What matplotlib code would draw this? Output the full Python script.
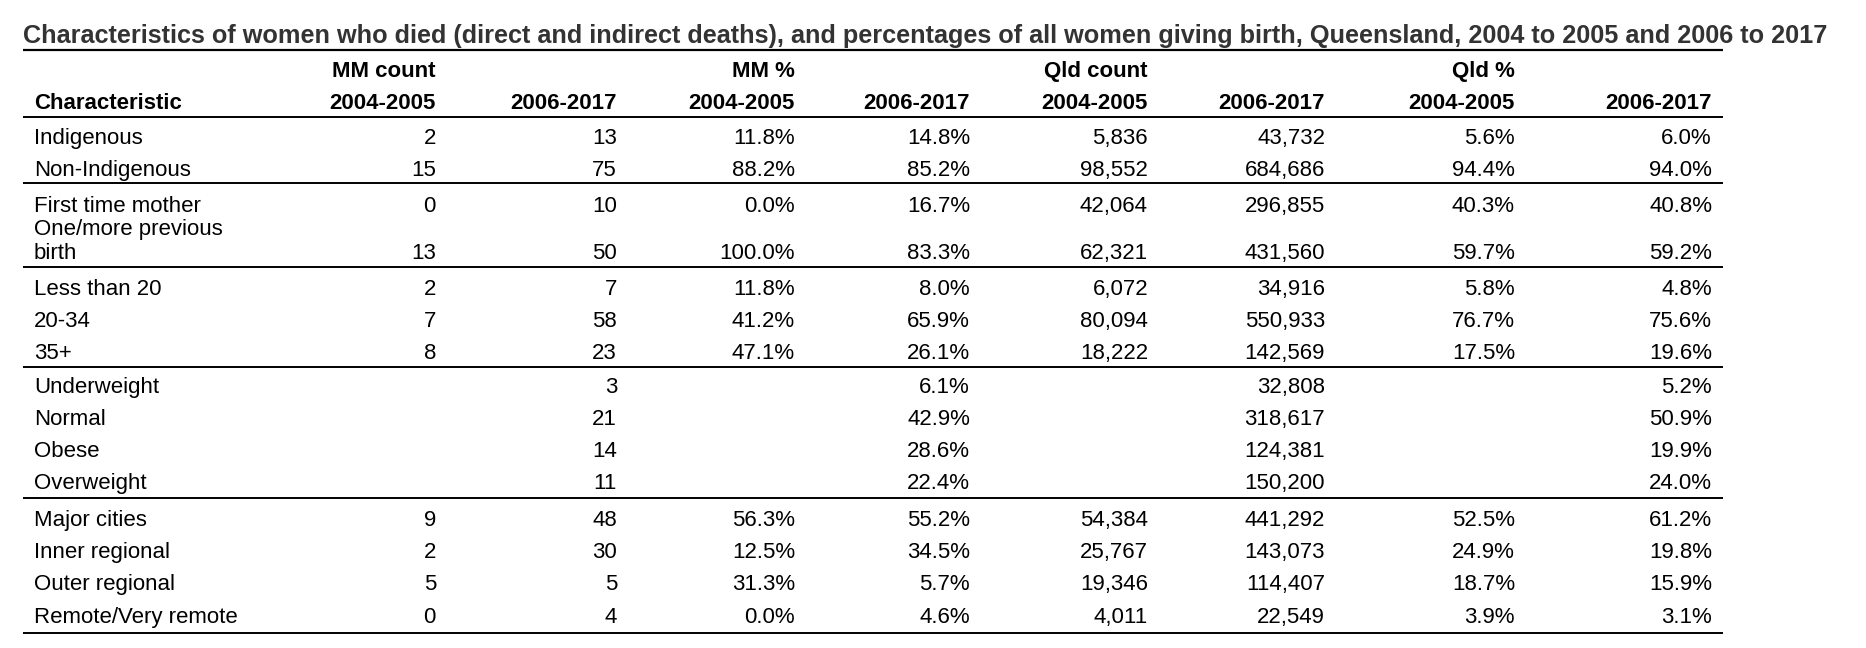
import matplotlib
matplotlib.use("Agg")
import matplotlib.pyplot as plt

plt.rcParams['font.family'] = ['Liberation Sans', 'DejaVu Sans']

title = ("Characteristics of women who died (direct and indirect deaths), and percentages "
         "of all women giving birth, Queensland, 2004 to 2005 and 2006 to 2017")

group_headers = ["MM count", "", "MM %", "", "Qld count", "", "Qld %", ""]
period_headers = ["2004-2005", "2006-2017"] * 4
first_header = "Characteristic"

characteristics = ["Indigenous", "Non-Indigenous", "First time mother",
                   "One/more previous\nbirth", "Less than 20", "20-34", "35+",
                   "Underweight", "Normal", "Obese", "Overweight",
                   "Major cities", "Inner regional", "Outer regional",
                   "Remote/Very remote"]

mm_count_0405 = [2, 15, 0, 13, 2, 7, 8, None, None, None, None, 9, 2, 5, 0]
mm_count_0617 = [13, 75, 10, 50, 7, 58, 23, 3, 21, 14, 11, 48, 30, 5, 4]
mm_pct_0405 = [11.8, 88.2, 0.0, 100.0, 11.8, 41.2, 47.1, None, None, None, None,
               56.3, 12.5, 31.3, 0.0]
mm_pct_0617 = [14.8, 85.2, 16.7, 83.3, 8.0, 65.9, 26.1, 6.1, 42.9, 28.6, 22.4,
               55.2, 34.5, 5.7, 4.6]
qld_count_0405 = [5836, 98552, 42064, 62321, 6072, 80094, 18222, None, None, None,
                  None, 54384, 25767, 19346, 4011]
qld_count_0617 = [43732, 684686, 296855, 431560, 34916, 550933, 142569, 32808,
                  318617, 124381, 150200, 441292, 143073, 114407, 22549]
qld_pct_0405 = [5.6, 94.4, 40.3, 59.7, 5.8, 76.7, 17.5, None, None, None, None,
                52.5, 24.9, 18.7, 3.9]
qld_pct_0617 = [6.0, 94.0, 40.8, 59.2, 4.8, 75.6, 19.6, 5.2, 50.9, 19.9, 24.0,
                61.2, 19.8, 15.9, 3.1]

columns = [mm_count_0405, mm_count_0617, mm_pct_0405, mm_pct_0617,
           qld_count_0405, qld_count_0617, qld_pct_0405, qld_pct_0617]
col_kinds = ["count", "count", "pct", "pct", "count", "count", "pct", "pct"]


def fmt(v, kind):
    if v is None:
        return ""
    if kind == "pct":
        return f"{v:.1f}%"
    return f"{v:,}"


W, H = 1866, 648
fig = plt.figure(figsize=(W / 100, H / 100), dpi=100)
ax = fig.add_axes([0, 0, 1, 1])
ax.set_xlim(0, W)
ax.set_ylim(H, 0)
ax.axis('off')

FS = 16
left = 23
right = 1723
label_x = 34
col_right = [436, 617, 795, 970, 1148, 1325, 1515, 1712]

# title
ax.text(left, 43, title, fontsize=18.2, fontweight='bold', color='#333333',
        ha='left', va='baseline')
ax.plot([left, right], [50, 50], color='black', lw=1.6, solid_capstyle='butt')

# headers
for x, g in zip(col_right, group_headers):
    if g:
        ax.text(x, 77, g, fontsize=FS, fontweight='bold', ha='right', va='baseline')
ax.text(label_x, 109, first_header, fontsize=FS, fontweight='bold', ha='left',
        va='baseline')
for x, p in zip(col_right, period_headers):
    ax.text(x, 109, p, fontsize=FS, fontweight='bold', ha='right', va='baseline')
ax.plot([left, right], [117, 117], color='black', lw=1.4, solid_capstyle='butt')

# body rows
row_base = [144, 176, 212, 259, 295, 327, 359, 393, 425, 457, 489, 526, 558, 590, 623]
rule_y = [183, 267, 367, 498, 633]
line_gap = 24

for i, lab in enumerate(characteristics):
    yb = row_base[i]
    lines = lab.split("\n")
    n = len(lines)
    for k, ln in enumerate(lines):
        ax.text(label_x, yb - (n - 1 - k) * line_gap, ln, fontsize=FS,
                ha='left', va='baseline')
    for x, col, kind in zip(col_right, columns, col_kinds):
        s = fmt(col[i], kind)
        if s:
            ax.text(x, yb, s, fontsize=FS, ha='right', va='baseline')

for y in rule_y:
    ax.plot([left, right], [y, y], color='black', lw=1.4, solid_capstyle='butt')

fig.savefig("out.png", dpi=100, facecolor='white')
